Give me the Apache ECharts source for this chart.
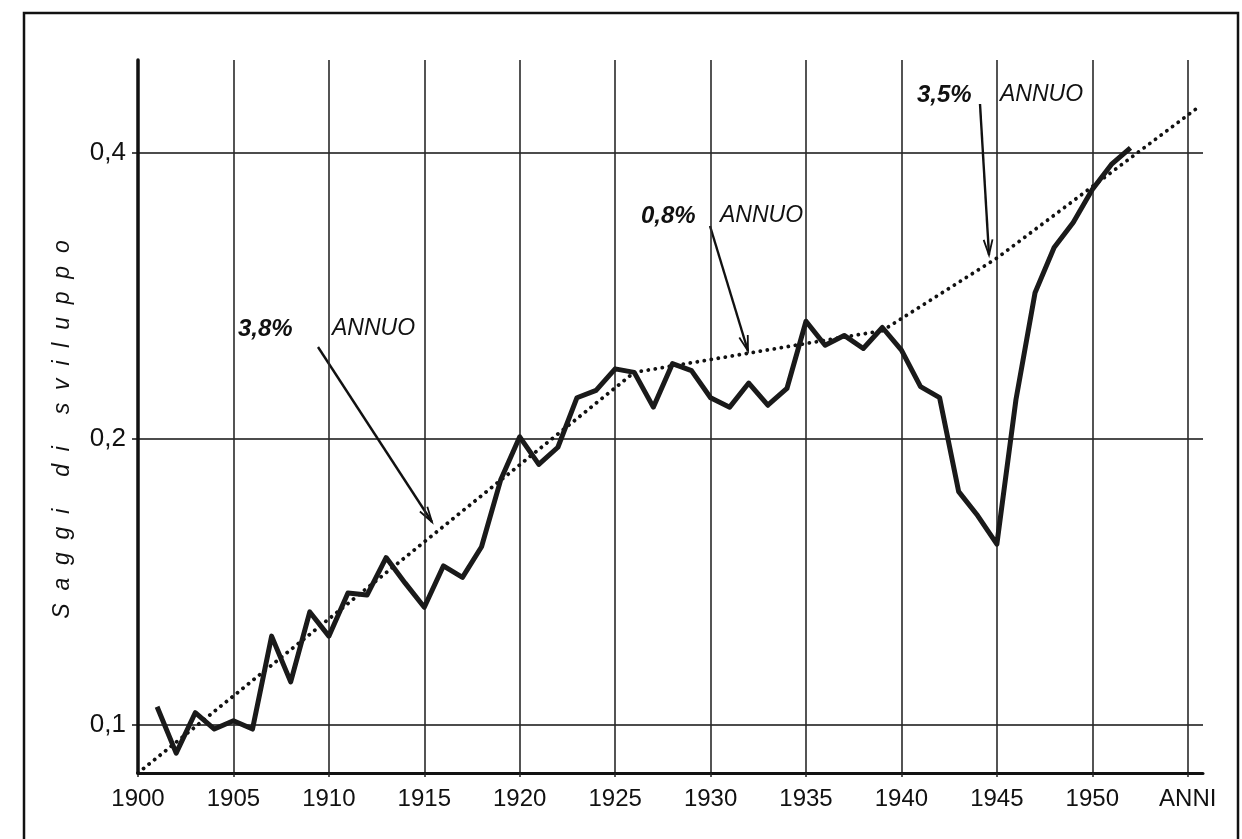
<!DOCTYPE html>
<html>
<head>
<meta charset="utf-8">
<script src="https://cdn.jsdelivr.net/npm/echarts@6/dist/echarts.min.js"></script>
<style>
    html, body { margin: 0; padding: 0; background: #fff; }
    #chart { width: 1242px; height: 839px; }
</style>
</head>
<body>
<div id="chart"></div>
<script>
// anni e saggi di sviluppo
const years = [1901, 1902, 1903, 1904, 1905, 1906, 1907, 1908, 1909, 1910,
    1911, 1912, 1913, 1914, 1915, 1916, 1917, 1918, 1919, 1920,
    1921, 1922, 1923, 1924, 1925, 1926, 1927, 1928, 1929, 1930,
    1931, 1932, 1933, 1934, 1935, 1936, 1937, 1938, 1939, 1940,
    1941, 1942, 1943, 1944, 1945, 1946, 1947, 1948, 1949, 1950,
    1951, 1952]
const saggi = [0.1045, 0.0934, 0.103, 0.099, 0.101, 0.099, 0.124, 0.111, 0.1315, 0.124,
    0.1377, 0.137, 0.150, 0.141, 0.133, 0.147, 0.143, 0.154, 0.181, 0.201,
    0.188, 0.196, 0.221, 0.225, 0.237, 0.235, 0.216, 0.240, 0.236, 0.221,
    0.216, 0.229, 0.217, 0.226, 0.266, 0.251, 0.257, 0.249, 0.262, 0.248,
    0.227, 0.221, 0.176, 0.166, 0.155, 0.220, 0.285, 0.318, 0.338, 0.366,
    0.389, 0.405]

// linee di tendenza (3,8% - 0,8% - 3,5% annuo)
const trendAYears = [1900, 1926]
const trendA = [0.089, 0.235]
const trendBYears = [1926, 1939]
const trendB = [0.235, 0.260]
const trendCYears = [1939, 1945, 1955.5]
const trendC = [0.260, 0.310, 0.446]

// assi
const xTicks = [1900, 1905, 1910, 1915, 1920, 1925, 1930, 1935, 1940, 1945, 1950, 1955]
const xTickLabels = ['1900', '1905', '1910', '1915', '1920', '1925', '1930', '1935', '1940', '1945', '1950', 'ANNI']
const yTicks = [0.1, 0.2, 0.4]
const yTickLabels = ['0,1', '0,2', '0,4']
const yMin = 0.089
const yMax = 0.501

// scala logaritmica: log2 rispetto a 0,1
const toLog = v => Math.log2(v / 0.1)
const pairs = (xs, vs) => xs.map((x, i) => [x, toLog(vs[i])])

const labelFont = '"Liberation Sans", Arial, sans-serif'

const dotted = {
    color: '#111',
    width: 3.8,
    type: [0.1, 7],
    cap: 'round'
}

const trendSeries = (data) => ({
    type: 'line',
    data: data,
    symbol: 'none',
    silent: true,
    lineStyle: dotted,
    z: 3
})

// annotazioni: testo e freccia (posizioni in pixel)
const notes = [
    { pct: '3,8%', px: 238, py: 329, wx: 332, arrow: [318, 347, 432, 522] },
    { pct: '0,8%', px: 641, py: 216, wx: 720, arrow: [710, 226, 748, 351] },
    { pct: '3,5%', px: 917, py: 95, wx: 1000, arrow: [980, 104, 989, 255] }
]

function arrowGraphics(a) {
    const [x1, y1, x2, y2] = a
    const ang = Math.atan2(y2 - y1, x2 - x1)
    const len = 16, spread = 0.28
    const w1 = [x2 - len * Math.cos(ang - spread), y2 - len * Math.sin(ang - spread)]
    const w2 = [x2 - len * Math.cos(ang + spread), y2 - len * Math.sin(ang + spread)]
    return [
        { type: 'line', shape: { x1: x1, y1: y1, x2: x2, y2: y2 }, style: { stroke: '#111', lineWidth: 2.4 } },
        { type: 'polyline', shape: { points: [w1, [x2, y2], w2] }, style: { stroke: '#111', lineWidth: 1.8, fill: null } }
    ]
}

const graphics = [
    {
        type: 'rect',
        shape: { x: 24, y: 13, width: 1214, height: 900 },
        style: { fill: null, stroke: '#111', lineWidth: 2.5 },
        silent: true
    }
]
notes.forEach(n => {
    graphics.push({
        type: 'text', x: n.px, y: n.py,
        style: { text: n.pct, font: 'italic bold 24px ' + labelFont, fill: '#111', verticalAlign: 'middle' }
    })
    graphics.push({
        type: 'text', x: n.wx, y: n.py,
        style: { text: 'ANNUO', font: 'italic 500 23px ' + labelFont, fill: '#111', verticalAlign: 'middle' }
    })
    arrowGraphics(n.arrow).forEach(g => graphics.push(g))
})

const chart = echarts.init(document.getElementById('chart'))
const option = {
    animation: false,
    backgroundColor: '#fff',
    grid: {
        left: 138,
        right: 39,
        top: 60,
        bottom: 66
    },
    xAxis: {
        type: 'value',
        min: 1900,
        max: 1955.8,
        axisLine: { onZero: false, lineStyle: { color: '#111', width: 3 } },
        axisTick: { customValues: xTicks, length: 4, lineStyle: { color: '#222', width: 1.5 } },
        axisLabel: {
            customValues: xTicks,
            margin: 14,
            fontFamily: labelFont,
            fontSize: 24,
            color: '#111',
            formatter: v => xTickLabels[xTicks.indexOf(Math.round(v))] || ''
        },
        splitLine: { show: true, lineStyle: { color: '#2a2a2a', width: 1.6 } }
    },
    yAxis: {
        type: 'value',
        min: toLog(yMin),
        max: toLog(yMax),
        name: 'S  a  g  g  i     d  i     s  v  i  l  u  p  p  o',
        nameLocation: 'middle',
        nameRotate: 90,
        nameGap: 64,
        nameTextStyle: {
            fontFamily: labelFont,
            fontStyle: 'italic',
            fontSize: 23,
            color: '#111',
            padding: [0, 26, 0, 0]
        },
        axisLine: { show: true, onZero: false, lineStyle: { color: '#111', width: 3.5 } },
        axisTick: { customValues: yTicks.map(toLog), length: 6, lineStyle: { color: '#111', width: 1.5 } },
        axisLabel: {
            customValues: yTicks.map(toLog),
            margin: 12,
            fontFamily: labelFont,
            fontSize: 26,
            color: '#111',
            formatter: v => {
                const i = yTicks.findIndex(t => Math.abs(toLog(t) - v) < 1e-6)
                return i >= 0 ? yTickLabels[i] : ''
            }
        },
        splitLine: { show: true, lineStyle: { color: '#111', width: 1.5 } }
    },
    series: [
        trendSeries(pairs(trendAYears, trendA)),
        trendSeries(pairs(trendBYears, trendB)),
        trendSeries(pairs(trendCYears, trendC)),
        {
            type: 'line',
            data: pairs(years, saggi),
            symbol: 'none',
            silent: true,
            lineStyle: { color: '#1a1a1a', width: 5, join: 'round' },
            z: 4
        }
    ],
    graphic: graphics
}

chart.setOption(option, true)
</script>
</body>
</html>
